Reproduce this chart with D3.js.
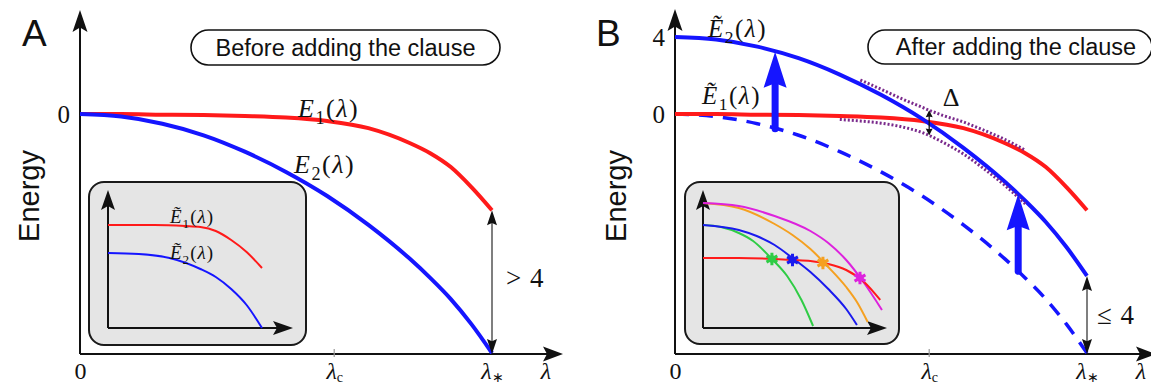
<!DOCTYPE html>
<html><head><meta charset="utf-8">
<script src="https://cdn.jsdelivr.net/npm/d3@7"></script>
<style>body{margin:0;background:#fff}svg{display:block}</style>
</head><body>
<svg id="c" width="1151" height="387"></svg>
<script>
// ---------- data ----------
const lambdaGrid = [0, 0.1, 0.2, 0.3, 0.4, 0.5, 0.6, 0.7, 0.8, 0.85, 0.9, 0.95, 1];
const E1      = [0, 0, -0.03, -0.05, -0.1, -0.18, -0.36, -0.73, -1.5, -2.03, -2.75, -3.79, -4.99];
const E2      = [0, -0.13, -0.5, -1.1, -1.95, -3.0, -4.25, -5.75, -7.5, -8.5, -9.6, -10.9, -12.4];
const E2tilde = [4, 3.87, 3.5, 2.9, 2.05, 1.0, -0.25, -1.75, -3.5, -4.5, -5.6, -6.9, -8.4];

const dotUpperLambda = [0.45, 0.5, 0.55, 0.6, 0.617, 0.65, 0.7, 0.75, 0.8, 0.85];
const dotUpper       = [1.77, 1.29, 0.80, 0.35, 0.20, -0.07, -0.41, -0.84, -1.31, -1.87];
const dotLowerLambda = [0.4, 0.45, 0.5, 0.55, 0.6, 0.617, 0.65, 0.7, 0.75, 0.8, 0.85];
const dotLower       = [-0.28, -0.36, -0.47, -0.66, -0.96, -1.11, -1.46, -2.07, -2.84, -3.69, -4.66];

const lambdaC = 0.617, lambdaStar = 1, lambdaLabel = 1.13;
const gapTop = 0.20, gapBottom = -1.11;           // Delta arrow ends
const liftLambda = [0.243, 0.833];
const liftFrom   = [-0.76, -8.16];
const liftTo     = [3.24, -4.16];
const axisBottomE = -12.45;

// inset A
const insAredL = [0, 0.2, 0.3, 0.5, 0.6, 0.7, 0.8, 0.9, 1];
const insAred  = [103, 103, 103, 102, 101, 97, 88, 76, 60];
const insAblueL = [0, 0.2, 0.4, 0.6, 0.7, 0.8, 0.9, 1];
const insAblue  = [75, 74, 70, 59, 51, 39, 23, 0];
// inset B
const insBredL = [0, 0.2, 0.4, 0.5, 0.6, 0.7, 0.8, 0.9, 0.99];
const insBred  = [70, 70, 69, 68, 67, 64, 58, 46, 28];
const insBmagL = [0, 0.2, 0.4, 0.6, 0.7, 0.8, 0.9, 1];
const insBmag  = [125, 122, 112, 97, 85, 68, 45, 18];
const insBoraL = [0, 0.2, 0.4, 0.5, 0.6, 0.7, 0.8, 0.86, 0.92];
const insBora  = [125, 120, 104, 93, 79, 61, 41, 26, 6];
const insBbluL = [0, 0.2, 0.3, 0.4, 0.5, 0.6, 0.7, 0.8, 0.86];
const insBblu  = [103, 98, 92, 83, 70, 56, 39, 19, 3];
const insBgrnL = [0, 0.1, 0.2, 0.28, 0.385, 0.47, 0.55, 0.615];
const insBgrn  = [103, 101, 95, 87, 69, 52, 28, 2];
const starL = [0.385, 0.5, 0.67, 0.877];
const starV = [69, 68, 65, 50];
const starC = ["#2fcc45", "#1a1aee", "#f5a020", "#dd22dd"];

// ---------- drawing ----------
const svg = d3.select("#c");
const RED = "#ff1a1a", BLUE = "#1515ff", SERIF = "Liberation Serif", SANS = "Liberation Sans";
const zip = (a, b) => a.map((v, i) => [v, b[i]]);

function head(g, x, y, ang, L, W, col, inner = 0.8) {
  const c = Math.cos(ang), s = Math.sin(ang);
  const bx = x - L * c, by = y - L * s, px = -s, py = c;
  const ix = x - L * inner * c, iy = y - L * inner * s;
  g.append("path").attr("d", `M${x},${y}L${bx + W * px},${by + W * py}L${ix},${iy}L${bx - W * px},${by - W * py}Z`).attr("fill", col);
}
function mathText(g, x, y, parts, size, anchor = "start", spacing = 0) {
  const t = g.append("text").attr("x", x).attr("y", y).attr("font-family", SERIF)
    .attr("font-size", size).attr("text-anchor", anchor).attr("fill", "#111").attr("letter-spacing", spacing);
  let sh = 0;
  parts.forEach(([txt, st]) => {
    const ts = t.append("tspan").text(txt);
    if (st === "s") { ts.attr("dy", size * 0.25 - sh).attr("font-size", size * 0.7); sh = size * 0.25; }
    else { if (sh) { ts.attr("dy", -sh); sh = 0; } if (st === "i") ts.attr("font-style", "italic"); }
  });
  return t;
}
function pill(x0, x1, y0, y1, txt, cx) {
  svg.append("rect").attr("x", x0).attr("y", y0).attr("width", x1 - x0).attr("height", y1 - y0)
    .attr("rx", (y1 - y0) / 2).attr("fill", "#fff").attr("stroke", "#111").attr("stroke-width", 1.6);
  svg.append("text").attr("x", cx).attr("y", y1 - 9).attr("text-anchor", "middle")
    .attr("font-family", SANS).attr("font-size", 23.5).attr("fill", "#111").text(txt);
}

const yS = d3.scaleLinear([axisBottomE, 4], [354, 37]);
const xA = d3.scaleLinear([0, 1], [80, 492]);
const xB = d3.scaleLinear([0, 1], [675, 1087]);

function frame(xs, tipY, tipX, yTicks, letter, letterX, energyX) {
  const g = svg.append("g");
  const x0 = xs(0), y0 = yS(axisBottomE);
  g.append("line").attr("x1", x0).attr("y1", y0).attr("x2", x0).attr("y2", tipY + 15).attr("stroke", "#111").attr("stroke-width", 2);
  head(g, x0, tipY, -Math.PI / 2, 22, 7.5, "#111");
  g.append("line").attr("x1", x0).attr("y1", y0).attr("x2", tipX - 15).attr("y2", y0).attr("stroke", "#111").attr("stroke-width", 2);
  head(g, tipX, y0, 0, 20, 7.5, "#111");
  g.append("line").attr("x1", xs(lambdaC)).attr("x2", xs(lambdaC)).attr("y1", y0 - 5).attr("y2", y0 + 3)
    .attr("stroke", "#999").attr("stroke-width", 1.2);
  const labels = new Map([[0, [["0", "n"]]], [lambdaC, [["λ", "i"], ["c", "s"]]], [lambdaStar, [["λ", "i"], ["∗", "s"]]], [lambdaLabel, [["λ", "i"]]]]);
  const ax = g.append("g").attr("transform", `translate(0,${y0})`)
    .call(d3.axisBottom(xs).tickValues([0, lambdaC, lambdaStar, lambdaLabel]).tickSize(0).tickPadding(8).tickFormat(""));
  ax.select(".domain").remove();
  ax.selectAll(".tick text").each(function (d) {
    const t = d3.select(this).attr("font-family", SERIF).attr("font-size", 24).attr("fill", "#111");
    labels.get(d).forEach(([txt, st]) => {
      const ts = t.append("tspan").text(txt);
      if (st === "s") ts.attr("dy", 3).attr("font-size", 14);
      else if (st === "i") ts.attr("font-style", "italic");
    });
  });
  const ay = g.append("g").attr("transform", `translate(${x0},0)`)
    .call(d3.axisLeft(yS).tickValues(yTicks).tickSize(0).tickPadding(10).tickFormat(d3.format("d")));
  ay.select(".domain").remove();
  ay.selectAll(".tick text").attr("font-family", SERIF).attr("font-size", 25).attr("fill", "#111");
  svg.append("text").attr("x", letterX).attr("y", 46).attr("font-family", SANS).attr("font-size", 37).attr("fill", "#111").text(letter);
  svg.append("text").attr("transform", `translate(${energyX},196) rotate(-90)`).attr("text-anchor", "middle")
    .attr("font-family", SANS).attr("font-size", 29).attr("fill", "#111").text("Energy");
}

function insetBox(x0, y0, x1, y1) {
  svg.append("rect").attr("x", x0).attr("y", y0).attr("width", x1 - x0).attr("height", y1 - y0).attr("rx", 15)
    .attr("fill", "#e5e5e5").attr("stroke", "#1a1a1a").attr("stroke-width", 2);
}
function insetAxes(ix, iy, tipX, tipY) {
  const g = svg.append("g");
  g.append("line").attr("x1", ix(0)).attr("y1", iy(0)).attr("x2", ix(0)).attr("y2", tipY + 12).attr("stroke", "#111").attr("stroke-width", 2);
  head(g, ix(0), tipY, -Math.PI / 2, 20, 7, "#111");
  g.append("line").attr("x1", ix(0)).attr("y1", iy(0)).attr("x2", tipX - 12).attr("y2", iy(0)).attr("stroke", "#111").attr("stroke-width", 2);
  head(g, tipX, iy(0), 0, 20, 7, "#111");
}
const lbl = (n) => [["Ẽ", "i"], [n, "s"], ["(", "n"], ["λ", "i"], [")", "n"]];
const lblE = (n) => [["E", "i"], [n, "s"], ["(", "n"], ["λ", "i"], [")", "n"]];

// ===== Panel A =====
frame(xA, 10, 563, [0], "A", 22, 39);
pill(191, 500, 30, 65, "Before adding the clause", 345.5);
const lineA = d3.line().x(d => xA(d[0])).y(d => yS(d[1])).curve(d3.curveMonotoneX);
svg.append("path").attr("d", lineA(zip(lambdaGrid, E1))).attr("fill", "none").attr("stroke", RED).attr("stroke-width", 4);
svg.append("path").attr("d", lineA(zip(lambdaGrid, E2))).attr("fill", "none").attr("stroke", BLUE).attr("stroke-width", 4);
mathText(svg, 298, 117, lblE("1"), 26, "start", 1.5);
mathText(svg, 294, 173, lblE("2"), 26, "start", 1.5);
{
  const g = svg.append("g"), x = xA(lambdaStar), ya = yS(E1[E1.length - 1]), yb = yS(axisBottomE);
  g.append("line").attr("x1", x).attr("x2", x).attr("y1", ya + 8).attr("y2", yb - 8).attr("stroke", "#555").attr("stroke-width", 1.5);
  head(g, x, ya, -Math.PI / 2, 15, 5, "#111", 0.85);
  head(g, x, yb, Math.PI / 2, 15, 5, "#111", 0.85);
  mathText(svg, 506, 287, [["> 4", "n"]], 27, "start", 1);
}
insetBox(89, 182, 306, 345);
const iAx = d3.scaleLinear([0, 1], [108, 262]), iAy = d3.scaleLinear([0, 140], [328, 188]);
insetAxes(iAx, iAy, 293, 190);
const lineIA = d3.line().x(d => iAx(d[0])).y(d => iAy(d[1])).curve(d3.curveMonotoneX);
svg.append("path").attr("d", lineIA(zip(insAredL, insAred))).attr("fill", "none").attr("stroke", RED).attr("stroke-width", 2);
svg.append("path").attr("d", lineIA(zip(insAblueL, insAblue))).attr("fill", "none").attr("stroke", BLUE).attr("stroke-width", 2);
mathText(svg, 170, 223, lbl("1"), 19, "start", 1);
mathText(svg, 170, 259, lbl("2"), 19, "start", 1);

// ===== Panel B =====
frame(xB, 9, 1156, [0, 4], "B", 596, 626);
pill(868, 1152, 30, 64, "After adding the clause", 1016);
const lineB = d3.line().x(d => xB(d[0])).y(d => yS(d[1])).curve(d3.curveMonotoneX);
svg.append("path").attr("d", lineB(zip(lambdaGrid, E2))).attr("fill", "none").attr("stroke", BLUE).attr("stroke-width", 3.5).attr("stroke-dasharray", "14,10");
svg.append("path").attr("d", lineB(zip(lambdaGrid, E1))).attr("fill", "none").attr("stroke", RED).attr("stroke-width", 4);
svg.append("path").attr("d", lineB(zip(lambdaGrid, E2tilde))).attr("fill", "none").attr("stroke", BLUE).attr("stroke-width", 4);
svg.append("path").attr("d", lineB(zip(dotUpperLambda, dotUpper))).attr("fill", "none").attr("stroke", "#7a2a8c").attr("stroke-width", 3).attr("stroke-dasharray", "2,2");
svg.append("path").attr("d", lineB(zip(dotLowerLambda, dotLower))).attr("fill", "none").attr("stroke", "#7a2a8c").attr("stroke-width", 3).attr("stroke-dasharray", "2,2");
mathText(svg, 708, 37, lbl("2"), 25, "start", 1.5);
mathText(svg, 702, 104, lbl("1"), 25, "start", 1.5);
liftLambda.forEach((l, i) => {
  const x = xB(l), yb = yS(liftFrom[i]), yt = yS(liftTo[i]);
  svg.append("line").attr("x1", x).attr("x2", x).attr("y1", yb).attr("y2", yt + 30).attr("stroke", BLUE).attr("stroke-width", 7).attr("stroke-linecap", "round");
  head(svg, x, yt, -Math.PI / 2, 36, 11.5, BLUE, 0.88);
});
{
  const g = svg.append("g"), x = xB(lambdaC), ya = yS(gapTop), yb = yS(gapBottom);
  g.append("line").attr("x1", x).attr("x2", x).attr("y1", ya + 4).attr("y2", yb - 4).attr("stroke", "#111").attr("stroke-width", 1.3);
  head(g, x, ya, -Math.PI / 2, 7, 3.5, "#111", 0.9);
  head(g, x, yb, Math.PI / 2, 7, 3.5, "#111", 0.9);
  mathText(svg, 951, 106, [["Δ", "n"]], 26, "middle");
}
{
  const g = svg.append("g"), x = xB(lambdaStar), ya = yS(E2tilde[E2tilde.length - 1]), yb = yS(axisBottomE);
  g.append("line").attr("x1", x).attr("x2", x).attr("y1", ya + 8).attr("y2", yb - 8).attr("stroke", "#555").attr("stroke-width", 1.5);
  head(g, x, ya, -Math.PI / 2, 15, 5, "#111", 0.85);
  head(g, x, yb, Math.PI / 2, 15, 5, "#111", 0.85);
  mathText(svg, 1097, 324, [["≤ 4", "n"]], 27, "start", 1);
}
insetBox(685, 182, 899, 344);
const iBx = d3.scaleLinear([0, 1], [703, 882]), iBy = d3.scaleLinear([0, 140], [328, 188]);
insetAxes(iBx, iBy, 887, 190);
const lineIB = d3.line().x(d => iBx(d[0])).y(d => iBy(d[1])).curve(d3.curveMonotoneX);
[[insBgrnL, insBgrn, "#2fcc45"], [insBbluL, insBblu, "#1a1aee"], [insBoraL, insBora, "#f5a020"], [insBmagL, insBmag, "#dd22dd"], [insBredL, insBred, RED]]
  .forEach(([l, v, c]) => svg.append("path").attr("d", lineIB(zip(l, v))).attr("fill", "none").attr("stroke", c).attr("stroke-width", 2));
starL.forEach((l, i) => {
  const g = svg.append("g").attr("transform", `translate(${iBx(l)},${iBy(starV[i])})`);
  g.append("path").attr("d", d3.symbol(d3.symbolAsterisk, 110)()).attr("stroke", starC[i]).attr("stroke-width", 3);
  g.append("path").attr("d", d3.symbol(d3.symbolCircle, 45)()).attr("fill", starC[i]);
});
</script>
</body></html>
